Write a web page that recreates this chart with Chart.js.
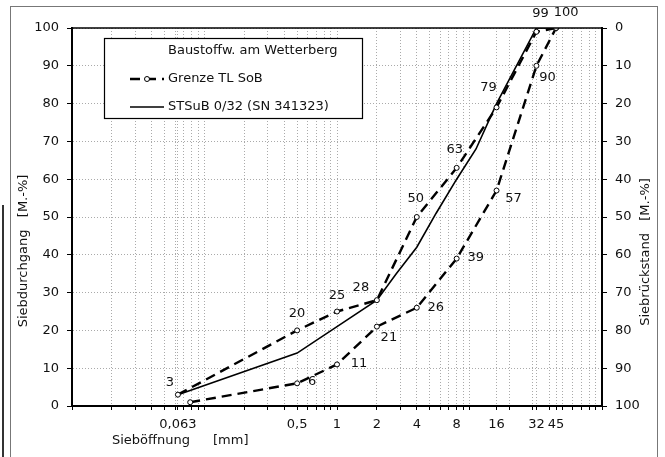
<!DOCTYPE html>
<html>
<head>
<meta charset="utf-8">
<script src="https://cdn.jsdelivr.net/npm/chart.js@4.4.1/dist/chart.umd.min.js"></script>
<style>
  html, body { margin: 0; padding: 0; background: #fff; }
  canvas { display: block; }
</style>
</head>
<body>
<canvas id="sieveChart" width="665" height="457"></canvas>
<script>
const legendTitle = "Baustoffw. am Wetterberg";
const limitName = "Grenze TL SoB";
const sampleName = "STSuB 0/32 (SN 341323)";

// Siebdurchgang in M.-% over Sieböffnung in mm
const upperX = [0.063, 0.5, 1, 2, 4, 8, 16, 32, 45];
const upperY = [3, 20, 25, 28, 50, 63, 79, 99, 100];
const lowerX = [0.078, 0.5, 1, 2, 4, 8, 16, 32, 45];
const lowerY = [1, 6, 11, 21, 26, 39, 57, 90, 100];
const sampleX = [0.063, 0.5, 1, 2, 2.8, 4, 5.6, 8, 11.2, 16, 32, 45];
const sampleY = [3, 14, 21, 28, 35, 42, 51, 60, 68, 80, 100, 100];

const tickValues = [0.063, 0.5, 1, 2, 4, 8, 16, 32, 45];
const tickText = ["0,063", "0,5", "1", "2", "4", "8", "16", "32", "45"];

const yTitle = "Siebdurchgang   [M.-%]";
const y2Title = "Siebrückstand   [M.-%]";
const xTitle = "Sieböffnung";
const xUnit = "[mm]";

// where the value labels sit next to their points (null = no label)
const upperOffsets = [[-8, -12], [0, -17], [0, -16], [-16, -13], [-1, -18], [-2, -18], [-8, -20], [4, -18], null];
const lowerOffsets = [null, [15, -2], [22, -1], [12, 11], [19, 0], [19, -1], [17, 8], [11, 12], [10, -15]];

const toPoints = (xs, ys) => xs.map((x, i) => ({ x: x, y: ys[i] }));

// vertical grid: log minors plus the sieve sizes
const gridValues = [];
for (let e = -2; e <= 1; e++) {
    for (let k = 1; k <= 9; k++) gridValues.push(Number((k * Math.pow(10, e)).toPrecision(6)));
}
gridValues.push(100);
tickValues.forEach(v => { if (!gridValues.includes(v)) gridValues.push(v); });
gridValues.sort((a, b) => a - b);

const FONT = "'DejaVu Sans', sans-serif";
Chart.defaults.font.family = FONT;
Chart.defaults.font.size = 13;
Chart.defaults.color = "#111";

const pageFrame = {
    id: "pageFrame",
    beforeDraw(chart) {
        const ctx = chart.ctx;
        ctx.save();
        ctx.fillStyle = "#fff";
        ctx.fillRect(0, 0, chart.width, chart.height);
        ctx.strokeStyle = "#777";
        ctx.lineWidth = 1;
        ctx.strokeRect(10.5, 6.5, 647, 460);
        ctx.strokeStyle = "#333";
        ctx.lineWidth = 2;
        ctx.beginPath();
        ctx.moveTo(3, 205);
        ctx.lineTo(3, chart.height);
        ctx.stroke();
        ctx.restore();
    },
    afterDraw(chart) {
        const { ctx, chartArea } = chart;
        ctx.save();
        ctx.strokeStyle = "#000";
        ctx.lineWidth = 1.5;
        ctx.beginPath();
        ctx.moveTo(chartArea.left, chartArea.top);
        ctx.lineTo(chartArea.right, chartArea.top);
        ctx.stroke();

        ctx.font = "13px " + FONT;
        ctx.fillStyle = "#111";
        ctx.textBaseline = "middle";
        ctx.textAlign = "center";
        ctx.save();
        ctx.translate(24, 251);
        ctx.rotate(-Math.PI / 2);
        ctx.fillText(yTitle, 0, 0);
        ctx.restore();
        ctx.save();
        ctx.translate(646, 252);
        ctx.rotate(-Math.PI / 2);
        ctx.fillText(y2Title, 0, 0);
        ctx.restore();
        ctx.textAlign = "left";
        ctx.fillText(xTitle, 112, 441);
        ctx.fillText(xUnit, 213, 441);
        ctx.restore();
    }
};

const valueLabels = {
    id: "valueLabels",
    afterDatasetsDraw(chart, args, opts) {
        const ctx = chart.ctx;
        ctx.save();
        ctx.font = "13px " + FONT;
        ctx.fillStyle = "#111";
        ctx.textAlign = "center";
        ctx.textBaseline = "middle";
        chart.data.datasets.forEach((ds, i) => {
            const offs = opts.offsets[i];
            if (!offs) return;
            chart.getDatasetMeta(i).data.forEach((pt, j) => {
                if (!offs[j]) return;
                ctx.fillText(String(ds.data[j].y), pt.x + offs[j][0], pt.y + offs[j][1]);
            });
        });
        ctx.restore();
    }
};

const boxLegend = {
    id: "boxLegend",
    afterDatasetsDraw(chart) {
        const { ctx, chartArea } = chart;
        const x = chartArea.left + 32, y = chartArea.top + 10, w = 258, h = 80;
        ctx.save();
        ctx.fillStyle = "#fff";
        ctx.fillRect(x, y, w, h);
        ctx.strokeStyle = "#000";
        ctx.lineWidth = 1.2;
        ctx.strokeRect(x + 0.5, y + 0.5, w, h);
        ctx.font = "13px " + FONT;
        ctx.fillStyle = "#111";
        ctx.textBaseline = "middle";
        ctx.textAlign = "left";
        ctx.fillText(legendTitle, x + 64, y + 13);
        const entries = [chart.data.datasets[0], chart.data.datasets[2]];
        entries.forEach((ds, k) => {
            const ly = y + 41 + k * 28;
            ctx.strokeStyle = "#000";
            ctx.lineWidth = ds.borderWidth;
            ctx.setLineDash(ds.borderDash || []);
            ctx.beginPath();
            ctx.moveTo(x + 26, ly);
            ctx.lineTo(x + 60, ly);
            ctx.stroke();
            ctx.setLineDash([]);
            if (ds.pointRadius) {
                ctx.beginPath();
                ctx.arc(x + 43, ly, ds.pointRadius, 0, Math.PI * 2);
                ctx.fillStyle = "#fff";
                ctx.fill();
                ctx.lineWidth = 1;
                ctx.stroke();
                ctx.fillStyle = "#111";
            }
            ctx.fillText(ds.label, x + 64, ly);
        });
        ctx.restore();
    }
};

const limitStyle = {
    borderColor: "#000",
    borderWidth: 2.4,
    borderDash: [10, 6],
    pointRadius: 2.5,
    pointBackgroundColor: "#fff",
    pointBorderColor: "#000",
    pointBorderWidth: 1,
    tension: 0,
    fill: false
};

new Chart(document.getElementById("sieveChart"), {
    type: "line",
    data: {
        datasets: [
            Object.assign({ label: limitName, data: toPoints(upperX, upperY) }, limitStyle),
            Object.assign({ label: limitName, data: toPoints(lowerX, lowerY) }, limitStyle),
            {
                label: sampleName,
                data: toPoints(sampleX, sampleY),
                borderColor: "#000",
                borderWidth: 1.6,
                pointRadius: 0,
                tension: 0,
                fill: false
            }
        ]
    },
    options: {
        responsive: false,
        animation: false,
        devicePixelRatio: 1,
        layout: { padding: { top: 28, left: 0, right: 0, bottom: 0 } },
        plugins: {
            legend: { display: false },
            tooltip: { enabled: false },
            valueLabels: { offsets: [upperOffsets, lowerOffsets, null] }
        },
        scales: {
            x: {
                type: "logarithmic",
                min: 0.01,
                max: 100,
                afterBuildTicks: scale => { scale.ticks = gridValues.map(v => ({ value: v })); },
                afterFit: scale => { scale.height = 51; },
                ticks: {
                    autoSkip: false,
                    maxRotation: 0,
                    minRotation: 0,
                    padding: 7,
                    callback: value => {
                        const i = tickValues.findIndex(t => Math.abs(t - value) / t < 1e-6);
                        return i >= 0 ? tickText[i] : "";
                    }
                },
                grid: { color: "#aaaaaa", lineWidth: 1, tickLength: 4, tickColor: "#000", tickBorderDash: [] },
                border: { display: true, color: "#000", width: 2, dash: [1, 2] }
            },
            y: {
                position: "left",
                min: 0,
                max: 100,
                afterFit: scale => { scale.width = 72; },
                ticks: { stepSize: 10, padding: 8 },
                grid: { color: "#aaaaaa", lineWidth: 1, tickLength: 5, tickColor: "#000", tickBorderDash: [] },
                border: { display: true, color: "#000", width: 2, dash: [1, 2] }
            },
            y2: {
                position: "right",
                reverse: true,
                min: 0,
                max: 100,
                afterFit: scale => { scale.width = 63; },
                ticks: { stepSize: 10, padding: 8 },
                grid: { drawOnChartArea: false, tickLength: 5, tickColor: "#000", tickBorderDash: [] },
                border: { display: true, color: "#000", width: 2 }
            }
        }
    },
    plugins: [pageFrame, valueLabels, boxLegend]
});
</script>
</body>
</html>
